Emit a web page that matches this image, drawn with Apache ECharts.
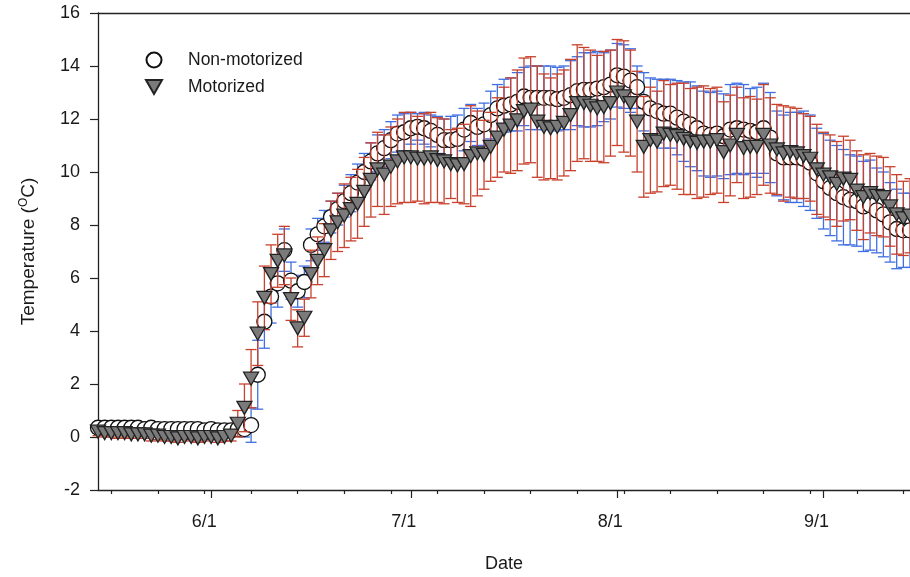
<!DOCTYPE html>
<html>
<head>
<meta charset="utf-8">
<script src="https://cdn.jsdelivr.net/npm/echarts@6/dist/echarts.min.js"></script>
<style>
  html, body { margin: 0; padding: 0; background: #fff; }
  #chart { width: 910px; height: 577px; }
</style>
</head>
<body>
<div id="chart"></div>
<script>
// day of year (leap year) of the first daily reading, 16 May
var firstDay = 136;

// daily mean temperature, Non-motorized (open circles)
var nonMotorized = [
  0.35, 0.35, 0.35, 0.35, 0.35, 0.35, 0.35, 0.3, 0.35, 0.3,
  0.3, 0.3, 0.3, 0.3, 0.3, 0.3, 0.25, 0.3, 0.25, 0.25,
  0.25, 0.3, 0.3, 0.45, 2.35, 4.35, 5.3, 5.8, 7.05, 5.9,
  5.5, 5.85, 7.25, 7.65, 7.95, 8.3, 8.6, 8.9, 9.2, 9.6,
  10.0, 10.4, 10.7, 10.9, 11.2, 11.45, 11.5, 11.65, 11.7, 11.65,
  11.55, 11.4, 11.2, 11.2, 11.25, 11.6, 11.85, 11.7, 11.8, 12.15,
  12.4, 12.5, 12.55, 12.65, 12.85, 12.8, 12.8, 12.8, 12.8, 12.75,
  12.8, 12.9, 13.05, 13.1, 13.1, 13.15, 13.2, 13.3, 13.65, 13.6,
  13.45, 13.2, 12.65, 12.4, 12.3, 12.2, 12.2, 12.05, 11.9, 11.8,
  11.65, 11.45, 11.4, 11.45, 11.35, 11.6, 11.65, 11.6, 11.55, 11.5,
  11.65, 11.3, 10.7, 10.55, 10.55, 10.55, 10.5, 10.35, 9.95, 9.65,
  9.4, 9.2, 9.05, 8.95, 8.9, 8.7, 8.75, 8.55, 8.4, 8.1,
  7.85, 7.8, 7.8
];
var nonMotorizedErr = [
  0.1, 0.1, 0.1, 0.15, 0.1, 0.1, 0.1, 0.1, 0.1, 0.1,
  0.1, 0.1, 0.1, 0.1, 0.1, 0.1, 0.1, 0.1, 0.1, 0.1,
  0.1, 0.15, 0.3, 0.65, 1.3, 1.0, 1.0, 0.9, 0.8, 0.7,
  0.6, 0.6, 0.6, 0.6, 0.6, 0.6, 0.6, 0.6, 0.7, 0.7,
  0.7, 0.7, 0.7, 0.7, 0.7, 0.7, 0.7, 0.6, 0.5, 0.6,
  0.6, 0.7, 0.8, 0.9, 0.9, 0.8, 0.7, 0.7, 0.8, 0.9,
  0.9, 1.0, 1.0, 1.1, 1.1, 1.2, 1.2, 1.2, 1.2, 1.2,
  1.2, 1.3, 1.3, 1.4, 1.4, 1.4, 1.3, 1.3, 1.2, 1.2,
  1.2, 0.8, 1.1, 1.15, 1.2, 1.3, 1.3, 1.4, 1.5, 1.6,
  1.6, 1.6, 1.6, 1.6, 1.6, 1.7, 1.7, 1.7, 1.6, 1.7,
  1.7, 1.7, 1.6, 1.6, 1.7, 1.7, 1.8, 1.8, 1.7, 1.8,
  1.8, 1.8, 1.8, 1.7, 1.7, 1.7, 1.7, 1.6, 1.6, 1.5,
  1.5, 1.4, 1.4
];

// daily mean temperature, Motorized (grey triangles)
var motorized = [
  0.2, 0.15, 0.15, 0.15, 0.15, 0.1, 0.1, 0.1, 0.05, 0.05,
  0.0, 0.0, -0.05, 0.0, 0.0, -0.05, 0.0, 0.0, -0.05, 0.0,
  0.05, 0.5, 1.1, 2.2, 3.9, 5.25, 6.15, 6.65, 6.85, 5.2,
  4.1, 4.5, 6.15, 6.65, 7.05, 7.8, 8.1, 8.35, 8.6, 8.8,
  9.25, 9.7, 10.1, 9.9, 10.2, 10.4, 10.55, 10.55, 10.5, 10.5,
  10.55, 10.45, 10.4, 10.3, 10.25, 10.3, 10.6, 10.7, 10.65, 10.95,
  11.3, 11.6, 11.75, 11.95, 12.3, 12.35, 11.9, 11.7, 11.65, 11.7,
  11.85, 12.15, 12.6, 12.6, 12.5, 12.4, 12.45, 12.6, 13.0, 12.85,
  12.6, 11.9, 10.95, 11.2, 11.15, 11.45, 11.4, 11.35, 11.25, 11.15,
  11.1, 11.15, 11.15, 11.2, 10.75, 11.0, 11.4, 10.9, 10.95, 10.95,
  11.4, 11.0, 10.85, 10.7, 10.75, 10.7, 10.6, 10.5, 10.1, 9.9,
  9.8, 9.55, 9.75, 9.7, 9.3, 9.05, 9.2, 9.1, 9.05, 8.7,
  8.4, 8.25, 8.35
];
var motorizedErr = [
  0.15, 0.15, 0.15, 0.2, 0.15, 0.15, 0.15, 0.15, 0.2, 0.15,
  0.15, 0.15, 0.15, 0.1, 0.15, 0.15, 0.15, 0.1, 0.15, 0.15,
  0.2, 0.5, 0.9, 1.1, 1.2, 1.2, 1.1, 1.0, 1.1, 0.8,
  0.7, 0.7, 0.9, 0.9, 1.0, 1.1, 1.1, 1.2, 1.2, 1.3,
  1.3, 1.4, 1.4, 1.5, 1.5, 1.6, 1.7, 1.7, 1.6, 1.7,
  1.7, 1.6, 1.6, 1.3, 1.4, 1.5, 1.9, 1.6, 1.3, 1.3,
  1.5, 1.6, 1.8, 1.9, 2.0, 2.0, 2.1, 2.0, 1.9, 2.0,
  2.0, 2.1, 2.2, 2.1, 2.1, 2.0, 2.1, 2.0, 2.0, 2.1,
  2.0, 1.9, 1.9, 2.0, 1.9, 2.0, 1.9, 2.0, 2.1, 2.0,
  2.1, 2.1, 2.0, 2.0, 1.9, 1.9, 1.8, 1.9, 1.9, 1.8,
  1.9, 1.8, 1.7, 1.8, 1.7, 1.7, 1.6, 1.6, 1.7, 1.6,
  1.6, 1.6, 1.6, 1.5, 1.5, 1.6, 1.5, 1.5, 1.5, 1.5,
  1.5, 1.4, 1.4
];

// x axis: month starts (labelled) and weekly minor ticks, as day of year
var monthDays = [153, 183, 214, 245];
var monthLabels = ['6/1', '7/1', '8/1', '9/1'];
var weekTicks = [138, 145, 152, 159, 166, 173, 180, 187, 194, 201, 208, 215, 222, 229, 236, 243, 250, 257];

var days = nonMotorized.map(function (v, i) { return firstDay + i; });

function points(vals) {
    return vals.map(function (v, i) { return [days[i], v]; });
}
function bars(vals, errs) {
    return vals.map(function (v, i) { return [days[i], v - errs[i], v + errs[i]]; });
}

function errorBar(color) {
    return function (params, api) {
        var x = api.value(0);
        var top = api.coord([x, api.value(2)]);
        var bot = api.coord([x, api.value(1)]);
        var half = 5.5;
        var st = { stroke: color, lineWidth: 1.3 };
        return {
            type: 'group',
            children: [
                { type: 'line', shape: { x1: top[0], y1: top[1], x2: bot[0], y2: bot[1] }, style: st },
                { type: 'line', shape: { x1: top[0] - half, y1: top[1], x2: top[0] + half, y2: top[1] }, style: st },
                { type: 'line', shape: { x1: bot[0] - half, y1: bot[1], x2: bot[0] + half, y2: bot[1] }, style: st }
            ]
        };
    };
}

var downTriangle = 'path://M0,0L10,0L5,8.66Z';
var textColor = '#1a1a1a';
var font = 'Liberation Sans, Arial, sans-serif';

var chart = echarts.init(document.getElementById('chart'));
var option = {
    animation: false,
    textStyle: { fontFamily: font, color: textColor },
    grid: { left: 98, right: 0, top: 13, bottom: 87, outerBoundsMode: 'none', containLabel: false },
    legend: {
        orient: 'vertical',
        left: 145,
        top: 51,
        padding: 0,
        itemWidth: 16,
        itemHeight: 15,
        itemGap: 9,
        data: ['Non-motorized', 'Motorized'],
        textStyle: { fontSize: 17.5, lineHeight: 18, color: textColor, fontFamily: font, padding: [0, 0, 0, 21] }
    },
    xAxis: [
        {
            type: 'value',
            min: 136,
            max: 258,
            name: 'Date',
            nameLocation: 'middle',
            nameGap: 65,
            nameTextStyle: { fontSize: 18, color: textColor },
            axisLine: { show: true, onZero: false, lineStyle: { color: '#222', width: 1.3 } },
            axisTick: { show: true, customValues: monthDays, length: 8, lineStyle: { color: '#222', width: 1.2 } },
            axisLabel: {
                customValues: monthDays,
                fontSize: 18,
                color: textColor,
                margin: 23,
                padding: [0, 14, 0, 0],
                formatter: function (v) { return monthLabels[monthDays.indexOf(v)]; }
            },
            splitLine: { show: false }
        },
        {
            type: 'value',
            min: 136,
            max: 258,
            position: 'bottom',
            axisLine: { show: false, onZero: false },
            axisTick: { show: true, customValues: weekTicks, length: 4, lineStyle: { color: '#222', width: 1.2 } },
            axisLabel: { show: false },
            splitLine: { show: false }
        },
        {
            type: 'value',
            min: 136,
            max: 258,
            position: 'top',
            axisLine: { show: true, onZero: false, lineStyle: { color: '#222', width: 1.3 } },
            axisTick: { show: false },
            axisLabel: { show: false },
            splitLine: { show: false }
        }
    ],
    yAxis: {
        type: 'value',
        min: -2,
        max: 16,
        interval: 2,
        name: 'Temperature ({sup|O}C)',
        nameLocation: 'middle',
        nameGap: 59,
        nameTextStyle: {
            fontSize: 19,
            color: textColor,
            rich: { sup: { fontSize: 12, color: textColor, verticalAlign: 'top', padding: [0, 0, 9, 0] } }
        },
        axisLine: { show: true, onZero: false, lineStyle: { color: '#222', width: 1.3 } },
        axisTick: { show: true, length: 8, lineStyle: { color: '#222', width: 1.2 } },
        axisLabel: { fontSize: 18, color: textColor, margin: 18 },
        splitLine: { show: false }
    },
    series: [
        {
            type: 'custom',
            name: 'nmErr',
            xAxisIndex: 0,
            z: 1,
            renderItem: errorBar('#3f6fe0'),
            encode: { x: 0, y: [1, 2] },
            data: bars(nonMotorized, nonMotorizedErr),
            silent: true
        },
        {
            type: 'scatter',
            name: 'Non-motorized',
            xAxisIndex: 0,
            z: 2,
            symbol: 'circle',
            symbolSize: 15,
            itemStyle: { color: '#ffffff', borderColor: '#111', borderWidth: 1.3, opacity: 1 },
            data: points(nonMotorized)
        },
        {
            type: 'custom',
            name: 'mErr',
            xAxisIndex: 0,
            z: 3,
            renderItem: errorBar('#c8412d'),
            encode: { x: 0, y: [1, 2] },
            data: bars(motorized, motorizedErr),
            silent: true
        },
        {
            type: 'scatter',
            name: 'Motorized',
            xAxisIndex: 0,
            z: 4,
            symbol: downTriangle,
            symbolSize: [15, 13],
            itemStyle: { color: '#7a7a7a', borderColor: '#222', borderWidth: 1.3, opacity: 1 },
            data: points(motorized)
        }
    ]
};
chart.setOption(option);
</script>
</body>
</html>
